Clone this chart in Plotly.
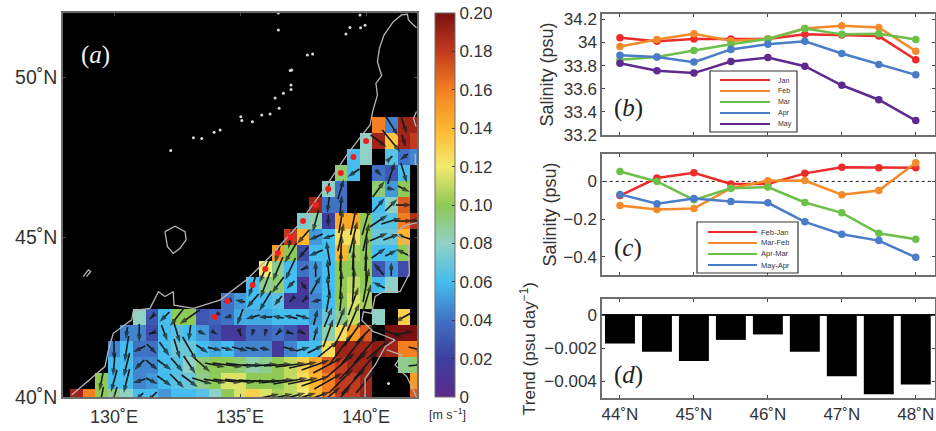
import plotly.graph_objects as go

W, H = 936, 431
FONT = "Liberation Sans"
INK = "#333333"
FRAME = "#6e6e6e"

# ---------- panel (a) data ----------
# lat: (first lon, speeds in m/s going east, None = no data)
_ = None
speed_rows = {
    48.5: (140.5, [.16, .045, .19, .19]),
    48.0: (140.0, [.08, .19, .135, .19, .18]),
    47.5: (139.5, [.06, .08, _, .065, .04, .045]),
    47.0: (139.0, [.095, .06, _, .04, .03, .06]),
    46.5: (138.5, [.08, .04, _, _, .095, .05, .1]),
    46.0: (138.0, [.19, .04, .04, _, _, .06, .08, .17]),
    45.5: (137.5, [.075, .085, .02, .145, .145, .1, .065, .065, .16, .185]),
    45.0: (137.0, [.18, .14, .05, .06, .125, .125, .1, .07, .07, .14]),
    44.5: (136.5, [.15, .1, .025, .06, .06, .14, .105, .1, .06, .06, .1]),
    44.0: (136.0, [.12, .09, .06, .04, .05, .06, .1, .1, .1, .03, .05, .025]),
    43.5: (135.5, [.06, .09, .095, .06, .01, .05, .06, .1, .11, .1, .06, .08]),
    43.0: (134.5, [.04, .05, .06, .06, .065, .015, .015, .045, .06, .1, .115, .105]),
    42.5: (131.0, [.08, .03, .06, .1, .1, .03, .035, .04, .055, .055, .055, .06, .06, .06, .05,
                   .07, .09, .11, _, .08, _, .13]),
    42.0: (130.5, [.045, .045, .025, .06, .065, .06, .05, .03, .015, .015, .035, .035, .04, .03, .01,
                   .055, .085, .125, .15, .17, _, .2, .2, .2]),
    41.5: (130.0, [.045, .06, .04, .04, .06, .07, .07, .06, .055, .06, .045, .045, .045, .015, .045,
                   .06, .06, .125, .19, .19, .19, .195, .19, .16, .16]),
    41.0: (130.0, [.06, .06, .045, .045, .06, .065, .08, .095, .1, .1, .095, .085, .09, .1, .11,
                   .13, .145, .17, .18, .19, .19, _, _, .09, .095]),
    40.5: (129.5, [.1, .06, .06, .045, .05, .06, .065, .07, .09, .1, .115, .115, .1, .1, .1, .11,
                   .125, .14, .16, .18, .18, .19, _, _, _, .15]),
    40.0: (128.5, [.19, .16, .1, .09, .08, .06, .06, .05, .06, .06, .065, .08, .1, .115, .13, .115,
                   .105, .11, .12, .14, .16, .18, .18, .19, _, _, _, .17]),
}

# lat: {lon: (eastward, northward) flow}
flow_rows = {
    48.5: {141: (35, -55), 141.5: (15, -45)},
    48.0: {140.5: (40, -30), 141: (45, -55), 141.5: (10, -30)},
    47.5: {141: (5, 5), 141.5: (-20, -15)},
    47.0: {139.5: (-30, -20), 140.5: (15, -15), 141: (18, 55), 141.5: (15, -50)},
    46.5: {138.5: (-5, -30), 139: (15, 50), 140.5: (30, 40), 141: (20, -5), 141.5: (30, -15)},
    46.0: {138.5: (-5, -40), 139: (5, 50), 140.5: (30, 35), 141: (30, 30), 141.5: (40, 0)},
    45.5: {138: (-15, -55), 138.5: (0, -30), 139: (10, 60), 139.5: (15, 70), 140: (20, 70),
           140.5: (45, 30), 141: (50, 15), 141.5: (45, 0), 142: (-40, 5)},
    45.0: {137: (-10, -60), 137.5: (-30, -35), 138: (-35, -15), 138.5: (-30, -10), 139: (15, 70),
           139.5: (20, 80), 140: (15, 70), 140.5: (45, 20), 141: (40, 15), 141.5: (-45, 15)},
    44.5: {136.5: (-15, -50), 137: (-30, -50), 137.5: (-25, -30), 138: (-35, -15), 138.5: (-10, 60),
           139: (5, 90), 139.5: (5, 85), 140: (5, 90), 140.5: (35, 25), 141: (30, 15), 141.5: (-40, 20)},
    44.0: {136: (-30, -70), 136.5: (-25, -60), 137: (-25, -55), 137.5: (-10, -5), 138: (0, 40),
           138.5: (-5, 50), 139: (0, 90), 139.5: (0, 95), 140: (0, 85), 140.5: (-25, 30), 141: (0, 35)},
    43.5: {135.5: (-20, -60), 136: (-25, -65), 136.5: (-30, -40), 137: (-20, -20), 137.5: (-15, 20),
           138: (25, 45), 138.5: (-5, 50), 139: (5, 70), 139.5: (5, 85), 140: (15, 85), 140.5: (-30, 15)},
    43.0: {134.5: (-15, -5), 135: (-25, 5), 135.5: (-30, -35), 136: (-30, -50), 136.5: (-20, -25),
           137: (-5, -5), 137.5: (-5, -5), 138: (-25, -5), 138.5: (10, 55), 139: (5, 50),
           139.5: (25, 70), 140: (25, 85)},
    42.5: {131.5: (-10, -10), 132: (-25, -25), 132.5: (-35, -45), 133: (-50, -35), 134: (-5, -5),
           134.5: (-20, -5), 135: (-15, -40), 135.5: (-35, -10), 136: (-35, 0), 136.5: (-30, 5),
           137: (-35, 8), 137.5: (35, -10), 138: (10, 40), 138.5: (20, 50), 139: (20, 50),
           139.5: (30, 70), 141.5: (-45, -25)},
    42.0: {130.5: (-5, -30), 131: (0, -45), 131.5: (-15, -5), 132: (15, -40), 132.5: (15, -50),
           133: (-5, -40), 133.5: (20, -10), 134: (15, -10), 135: (5, -15), 135.5: (-5, -20),
           136: (-5, -20), 136.5: (-10, -10), 137: (15, -5), 137.5: (10, -5), 138: (10, 35),
           138.5: (25, 70), 139: (35, 70), 139.5: (45, 65), 140: (50, 50), 141: (55, -20), 141.5: (50, 10)},
    41.5: {130: (0, -55), 130.5: (-10, -65), 131: (-30, -15), 131.5: (25, -25), 132: (25, -35),
           132.5: (15, -50), 133: (35, -60), 133.5: (30, -20), 134: (35, -8), 134.5: (30, -8),
           135: (40, -10), 135.5: (35, -8), 136: (25, -5), 137: (35, -10), 137.5: (35, 10),
           138: (40, 20), 138.5: (50, 40), 139: (55, 75), 139.5: (60, 75), 140: (60, 70),
           140.5: (60, 50), 142: (40, -10)},
    41.0: {130: (-5, -55), 130.5: (-15, -60), 131: (-25, -25), 131.5: (30, -25), 132: (35, -25),
           132.5: (30, -35), 133: (30, -45), 133.5: (40, -35), 134: (50, -10), 134.5: (75, -10),
           135: (70, -8), 135.5: (50, 0), 136: (60, 5), 136.5: (70, 5), 137: (75, 10), 137.5: (70, 15),
           138: (70, 25), 138.5: (75, 40), 139: (70, 60), 139.5: (70, 70), 140: (60, 70), 142: (40, 5)},
    40.5: {129.5: (-10, -50), 130: (-15, -55), 130.5: (-15, -60), 131: (-30, -10), 131.5: (30, -15),
           132: (35, -25), 132.5: (35, -35), 133: (40, -30), 133.5: (50, -15), 134: (55, -10),
           134.5: (70, -8), 135: (75, -8), 135.5: (70, -5), 136: (70, 0), 136.5: (80, 8), 137: (85, 15),
           137.5: (75, 15), 138: (70, 25), 138.5: (70, 40), 139: (60, 60), 139.5: (60, 65), 140: (50, 60)},
    40.0: {129.5: (-10, -50), 130: (-15, -50), 131: (-20, -20), 131.5: (-25, -25), 136: (70, 15),
           136.5: (75, 15), 137: (75, 20), 137.5: (65, 20), 138: (70, 25), 138.5: (60, 50), 139: (50, 55)},
}

station_lon = [140, 139.5, 139, 138.5, 138, 137.5, 137, 136.5, 136, 135.5, 134.5, 134]
station_lat = [48, 47.5, 47, 46.5, 46, 45.5, 45, 44.5, 44, 43.5, 43, 42.5]

coast_mainland = [(128.32, 40.06), (129.25, 40.69), (129.64, 40.95), (129.78, 41.47), (129.97, 41.99),
                  (130.7, 42.41), (130.77, 42.7), (131.43, 42.77), (131.76, 43.29), (132.02, 43.14),
                  (132.35, 43.29), (132.38, 42.87), (133.15, 42.77), (134.2, 43.03), (135.26, 43.66),
                  (136.19, 44.39), (137.25, 45.32), (138.31, 46.47), (139.23, 47.56), (139.89, 48.24),
                  (140.16, 48.5), (140.26, 48.92), (140.45, 49.44), (140.39, 49.8), (140.62, 50.04),
                  (140.45, 50.48), (140.53, 50.9), (140.71, 51.31), (141.08, 51.73), (141.41, 51.94),
                  (141.64, 51.96), (141.68, 51.78), (142.0, 51.54)]
coast_north_right = [(142, 48.92), (141.88, 48.71), (141.98, 48.45)]
coast_mid_right = [(141.95, 47.6), (141.95, 47.3), (142, 47.25)]
coast_hokkaido = [(142.01, 45.45), (141.48, 45.34), (141.2, 45.14), (141.68, 44.7), (141.72, 43.86),
                  (141.35, 43.29), (140.69, 43.29), (140.36, 43.14), (140.22, 42.61), (139.9, 42.66),
                  (139.83, 42.4), (140.29, 42.04), (140.69, 41.93), (141.15, 41.78), (140.76, 41.57),
                  (140.36, 41.0), (139.96, 40.58), (139.96, 40.0)]
coast_honshu = [(140.82, 41.47), (141.42, 41.31), (141.15, 41.0), (141.62, 40.63), (142, 40.0)]
coast_island = [(132.02, 45.17), (132.42, 45.34), (132.82, 45.17), (132.86, 44.91), (132.62, 44.65),
                (132.35, 44.49), (132.12, 44.7), (132.06, 44.96), (132.02, 45.17)]
coast_islet = [(128.78, 43.76), (128.98, 43.97), (129.07, 43.92), (128.91, 43.76)]
coast_lines = [coast_mainland, coast_north_right, coast_mid_right, coast_hokkaido,
               coast_honshu, coast_island, coast_islet]
islet_lon = [135.03, 135.49, 135.86, 136.19, 136.55, 135.07, 133.15, 133.48, 133.97, 134.21, 132.25,
             139.2, 139.36, 139.76, 139.96, 139.78, 140.0, 137.67, 137.88, 137.05, 137.02, 137.02,
             136.52, 136.52, 136.99, 136.72, 136.39, 140.89]
islet_lat = [48.76, 48.6, 48.81, 48.84, 49.02, 48.64, 48.10, 48.08, 48.27, 48.34, 47.7,
             51.34, 51.55, 51.94, 51.62, 51.54, 52.06, 50.69, 50.72, 50.22, 49.75, 49.61,
             52.0, 51.47, 50.2, 49.49, 49.34, 40.42]

speed_colors = [(0.0, "#5a2a8a"), (0.1, "#3d3f9f"), (0.2, "#3f72c4"), (0.3, "#45bdee"), (0.4, "#8fd1c5"),
                (0.5, "#8fc956"), (0.6, "#f3ea6e"), (0.7, "#fdb62e"), (0.8, "#f47f20"),
                (0.9, "#c23a1f"), (1.0, "#7a1010")]
speed_ticks = [0, .02, .04, .06, .08, .10, .12, .14, .16, .18, .20]
speed_labels = ["0", "0.02", "0.04", "0.06", "0.08", "0.10", "0.12", "0.14", "0.16", "0.18", "0.20"]

# ---------- right-hand panels data ----------
lats = [44, 44.5, 45, 45.5, 46, 46.5, 47, 47.5, 48]
lat_ticks = [44, 45, 46, 47, 48]
lat_labels = ["44˚N", "45˚N", "46˚N", "47˚N", "48˚N"]

sal_names = ["Jan", "Feb", "Mar", "Apr", "May"]
sal_colors = ["#ee2b2b", "#f58a2a", "#6cc04a", "#4a7cc8", "#5f2a90"]
sal_jan = [34.04, 34.01, 34.03, 34.03, 34.03, 34.07, 34.065, 34.055, 33.85]
sal_feb = [33.965, 34.025, 34.075, 34.015, 34.03, 34.12, 34.145, 34.13, 33.925]
sal_mar = [33.85, 33.875, 33.93, 33.985, 34.03, 34.12, 34.07, 34.075, 34.025]
sal_apr = [33.89, 33.875, 33.83, 33.94, 33.985, 34.01, 33.905, 33.81, 33.72]
sal_may = [33.82, 33.755, 33.735, 33.835, 33.87, 33.795, 33.63, 33.505, 33.325]
sal_series = [sal_jan, sal_feb, sal_mar, sal_apr, sal_may]

diff_names = ["Feb-Jan", "Mar-Feb", "Apr-Mar", "May-Apr"]
diff_colors = ["#ee2b2b", "#f58a2a", "#6cc04a", "#4a7cc8"]
diff_feb_jan = [-.075, .018, .046, -.014, -.014, .043, .075, .073, .073]
diff_mar_feb = [-.128, -.15, -.144, -.036, .004, .005, -.071, -.048, .10]
diff_apr_mar = [.053, 0, -.098, -.036, -.03, -.112, -.167, -.276, -.308]
diff_may_apr = [-.069, -.119, -.091, -.107, -.114, -.215, -.281, -.315, -.404]
diff_series = [diff_feb_jan, diff_mar_feb, diff_apr_mar, diff_may_apr]

trend = [-.00172, -.00222, -.00277, -.0015, -.00117, -.00222, -.0037, -.00479, -.0042]
trend_ticks = [0, -.002, -.004]
trend_labels = ["0", "−0.002", "−0.004"]


# ---------- layout helpers (pixels to paper fractions) ----------
def px(x):
    return x / W


def py(y):
    return 1 - y / H


fig = go.Figure()

# heat map
lon_axis = [128.5 + 0.5 * i for i in range(28)]
lat_axis = sorted(speed_rows)
z = []
for la in lat_axis:
    first, vals = speed_rows[la]
    row = [None] * 28
    start = int((first - 128.5) * 2)
    row[start:start + len(vals)] = vals
    z.append(row)

fig.add_trace(go.Heatmap(
    x=lon_axis, y=lat_axis, z=z, zmin=0, zmax=0.2, colorscale=speed_colors, hoverongaps=False,
    xaxis="x", yaxis="y",
    colorbar=dict(x=px(435), xanchor="left", y=py(397), yanchor="bottom", len=384 / H, lenmode="fraction",
                  thickness=20, thicknessmode="pixels", outlinecolor=FRAME, outlinewidth=1,
                  tickvals=speed_ticks, ticktext=speed_labels, ticks="inside", ticklen=3, tickcolor="#333",
                  tickfont=dict(family=FONT, size=17, color=INK), xpad=0, ypad=0),
))

# current arrows
DEG_PER_FLOW_LON = 1.2 / 75.6
DEG_PER_FLOW_LAT = 1.2 / 96
ax, ay, asize = [], [], []
for la, cells in flow_rows.items():
    for lo, (u, v) in cells.items():
        dx, dy = u * DEG_PER_FLOW_LON, v * DEG_PER_FLOW_LAT
        ax += [lo - dx / 2, lo + dx / 2, None]
        ay += [la - dy / 2, la + dy / 2, None]
        asize += [0, 8, 0]
fig.add_trace(go.Scatter(
    x=ax, y=ay, mode="lines+markers", xaxis="x", yaxis="y", cliponaxis=True, showlegend=False,
    line=dict(color="#15191a", width=1.6),
    marker=dict(symbol="arrow", angleref="previous", size=asize, color="#15191a", line=dict(width=0)),
))

# coast
for line in coast_lines:
    fig.add_trace(go.Scatter(x=[p[0] for p in line], y=[p[1] for p in line], mode="lines",
                             xaxis="x", yaxis="y", showlegend=False,
                             line=dict(color="#b4b4b4", width=1.3)))
fig.add_trace(go.Scatter(x=islet_lon, y=islet_lat, mode="markers", xaxis="x", yaxis="y", showlegend=False,
                         marker=dict(color="#d8d8d8", size=3)))
fig.add_trace(go.Scatter(x=station_lon, y=station_lat, mode="markers", xaxis="x", yaxis="y", showlegend=False,
                         marker=dict(color="#f02020", size=6)))

# salinity
for name, vals, col in zip(sal_names, sal_series, sal_colors):
    fig.add_trace(go.Scatter(x=lats, y=vals, name=name, mode="lines+markers", xaxis="x2", yaxis="y2",
                             showlegend=False, line=dict(color=col, width=2.5), marker=dict(color=col, size=7.5)))
# differences
fig.add_trace(go.Scatter(x=[43.7, 48.3], y=[0, 0], mode="lines", xaxis="x3", yaxis="y3", showlegend=False,
                         line=dict(color="#222", width=1, dash="dot")))
for name, vals, col in zip(diff_names, diff_series, diff_colors):
    fig.add_trace(go.Scatter(x=lats, y=vals, name=name, mode="lines+markers", xaxis="x3", yaxis="y3",
                             showlegend=False, line=dict(color=col, width=2.5), marker=dict(color=col, size=7.5)))
# trend bars
fig.add_trace(go.Bar(x=lats, y=trend, width=0.405, xaxis="x4", yaxis="y4", showlegend=False,
                     marker=dict(color="#000000", line=dict(width=0))))

tickf = dict(family=FONT, size=17, color=INK)
titlef = dict(family=FONT, size=18, color=INK)
RIGHT_X = [px(602), px(935)]
axis_common = dict(showgrid=False, zeroline=False, showline=True, linecolor=FRAME, linewidth=1.5,
                   mirror="ticks", ticks="inside", ticklen=3, tickcolor="#444", tickfont=tickf)
xr = [43.757, 48.26]

layout = dict(
    width=W, height=H, autosize=False, margin=dict(l=0, r=0, t=0, b=0, pad=0, autoexpand=False),
    paper_bgcolor="white", plot_bgcolor="white", showlegend=False,
    font=dict(family=FONT, color=INK),
    xaxis=dict(axis_common, domain=[px(63), px(417)], range=[127.976, 142.02], anchor="y",
               tickvals=[130, 135, 140], ticktext=["130˚E", "135˚E", "140˚E"], ticklabelstandoff=3,
               tickfont=dict(family=FONT, size=18, color=INK)),
    yaxis=dict(axis_common, domain=[py(397), py(13)], range=[40, 52], anchor="x",
               tickvals=[40, 45, 50], ticktext=["40˚N", "45˚N", "50˚N"],
               tickfont=dict(family=FONT, size=19.5, color=INK)),
    xaxis2=dict(axis_common, domain=RIGHT_X, range=xr, anchor="y2", tickvals=lat_ticks, showticklabels=False),
    yaxis2=dict(axis_common, domain=[py(135), py(14)], range=[33.2, 34.246], anchor="x2",
                tickvals=[33.2, 33.4, 33.6, 33.8, 34, 34.2],
                ticktext=["33.2", "33.4", "33.6", "33.8", "34", "34.2"],
                title=dict(text="Salinity (psu)", font=titlef, standoff=5)),
    xaxis3=dict(axis_common, domain=RIGHT_X, range=xr, anchor="y3", tickvals=lat_ticks, showticklabels=False),
    yaxis3=dict(axis_common, domain=[py(275), py(154)], range=[-0.498, 0.146], anchor="x3",
                tickvals=[0, -.2, -.4], ticktext=["0", "−0.2", "−0.4"],
                title=dict(text="Salinity (psu)", font=titlef, standoff=2)),
    xaxis4=dict(axis_common, domain=RIGHT_X, range=xr, anchor="y4", tickvals=lat_ticks, ticktext=lat_labels),
    yaxis4=dict(axis_common, domain=[py(398), py(299)], range=[-.00501, .00097], anchor="x4",
                tickvals=trend_ticks, ticktext=trend_labels, zeroline=True, zerolinecolor="#111", zerolinewidth=2,
                title=dict(text="Trend (psu day<sup>−1</sup>)", font=dict(family=FONT, size=17, color=INK), standoff=4)),
)

shapes = [dict(type="rect", xref="x domain", yref="y domain", x0=0, x1=1, y0=0, y1=1,
               fillcolor="black", line=dict(width=0), layer="below")]
annots = []


def panel_label(letter, x, y, color):
    annots.append(dict(text=f"(<i>{letter}</i>)", xref="paper", yref="paper", x=px(x), y=py(y), showarrow=False,
                       xanchor="center", yanchor="middle",
                       font=dict(family="Liberation Serif", size=25, color=color)))


panel_label("a", 95, 55, "#f0f0f0")
panel_label("b", 628, 108, "#222")
panel_label("c", 628, 248, "#222")
panel_label("d", 628, 375, "#222")
annots.append(dict(text="[m s<sup>−1</sup>]", xref="paper", yref="paper", x=px(447), y=py(414), showarrow=False,
                   xanchor="center", yanchor="middle", font=dict(family=FONT, size=12.5, color=INK)))


def legend_box(names, colors, box, line_x, text_x, rows, size):
    x0, y0, x1, y1 = box
    shapes.append(dict(type="rect", xref="paper", yref="paper", x0=px(x0), x1=px(x1), y0=py(y0), y1=py(y1),
                       fillcolor="white", line=dict(color="#333", width=1.2)))
    for name, col, y in zip(names, colors, rows):
        shapes.append(dict(type="line", xref="paper", yref="paper", x0=px(line_x[0]), x1=px(line_x[1]),
                           y0=py(y), y1=py(y), line=dict(color=col, width=2.2)))
        annots.append(dict(text=name, xref="paper", yref="paper", x=px(text_x), y=py(y), showarrow=False,
                           xanchor="left", yanchor="middle", font=dict(family=FONT, size=size, color="#333")))


legend_box(sal_names, sal_colors, (710, 71, 797, 132), (720, 770), 776, [80, 91, 102, 113, 124], 7)
legend_box(diff_names, diff_colors, (697, 222, 798, 273), (708, 757), 759, [232, 243, 254, 265], 7.5)
layout["shapes"] = shapes
layout["annotations"] = annots
fig.update_layout(**layout)

fig.write_html("out.html", config=dict(displayModeBar=False),
               post_script="document.body.style.margin='0';")
